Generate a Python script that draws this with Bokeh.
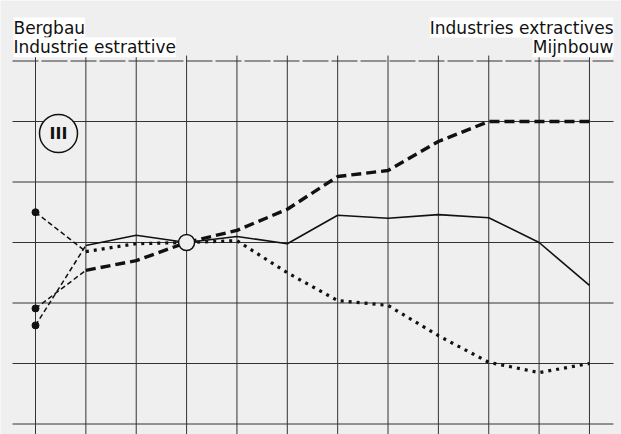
from bokeh.plotting import figure
from bokeh.models import Range1d, Label
from bokeh.embed import file_html
from bokeh.resources import INLINE

# ---- data (index, base year = 100) ----
years = [1955, 1956, 1957, 1958, 1959, 1960, 1961, 1962, 1963, 1964, 1965, 1966]
series_solid = [86.3, 99.5, 101.2, 100.0, 101.0, 99.8, 104.5, 104.0, 104.6, 104.1, 100.0, 92.9]
series_dotted = [105.0, 98.5, 99.8, 100.0, 100.3, 95.0, 90.4, 89.6, 84.6, 80.2, 78.5, 80.0]
series_dashed = [89.1, 95.4, 97.0, 100.0, 102.0, 105.5, 110.9, 111.9, 116.7, 120.0, 120.0, 120.0]
y_ticks = [70, 80, 90, 100, 110, 120, 130]
base_year = 1958
base_value = 100
title_left = ["Bergbau", "Industrie estrattive"]
title_right = ["Industries extractives", "Mijnbouw"]
badge = "III"

# ---- layout helpers (image pixel -> data) ----
OFF = 0                          # page offset of the figure
X0_PX, DX_PX = 35.0, 50.36       # first year position, px per year
Y100_PX, DY_PX = 242.0, 6.05     # value 100 position, px per unit
def px_x(ix):
    return years[0] + (ix - X0_PX) / DX_PX
def px_y(iy):
    return 100 + (Y100_PX - iy) / DY_PX

W, H = 621, 434
p = figure(width=W, height=H, output_backend="svg", toolbar_location=None,
           x_range=Range1d(px_x(OFF), px_x(OFF + W)), y_range=Range1d(px_y(OFF + H), px_y(OFF)),
           x_axis_location=None, y_axis_location=None, min_border=0)
p.grid.visible = False
p.outline_line_color = None
p.background_fill_color = "#efefef"
p.border_fill_color = "#efefef"

grid_col = "#333333"
# horizontal grid lines
hx0 = px_x(12)
hx1 = px_x(613)
p.segment(x0=[hx0] * (len(y_ticks) - 1), y0=y_ticks[:-1], x1=[hx1] * (len(y_ticks) - 1), y1=y_ticks[:-1],
          line_color=grid_col, line_width=1)
p.segment(x0=[hx0], y0=[y_ticks[-1]], x1=[hx1], y1=[y_ticks[-1]],
          line_color=grid_col, line_width=1, line_dash="26 3")
# vertical grid lines
vtop = y_ticks[-1] + 0.9
vbot = y_ticks[0] - 3
p.segment(x0=years, y0=[vtop] * len(years), x1=years, y1=[vbot] * len(years),
          line_color=grid_col, line_width=1)

ink = "#111111"
# early (thin dashed) segments
for s in (series_solid, series_dotted, series_dashed):
    p.line(years[:2], s[:2], line_color=ink, line_width=1.5, line_dash="5 3")
# main lines
p.line(years[1:], series_solid[1:], line_color=ink, line_width=1.6)
p.line(years[1:], series_dotted[1:], line_color=ink, line_width=3.2, line_dash="3 5")
p.line(years[1:], series_dashed[1:], line_color=ink, line_width=3.4, line_dash="10 5")

# start dots
p.scatter([years[0]] * 3, [series_solid[0], series_dotted[0], series_dashed[0]],
          marker="circle", size=7, fill_color=ink, line_color=ink)
# base circle
p.scatter([base_year], [base_value], marker="circle", size=16,
          fill_color="#efefef", line_color=ink, line_width=1.5)

# badge
bx, by = px_x(58), px_y(133)
p.scatter([bx], [by], marker="circle", size=38, fill_color="#efefef", line_color=ink, line_width=1.5)
p.add_layout(Label(x=bx, y=by, text=badge, text_font="DejaVu Sans", text_font_size="16px",
                   text_font_style="bold", text_align="center", text_baseline="middle", text_color=ink))

# titles
for t, b in zip(title_left, [27, 46.7]):
    p.add_layout(Label(x=px_x(13), y=px_y(b), text=t, text_font="DejaVu Sans",
                       text_font_size="17px", text_align="left", text_baseline="alphabetic",
                       text_color=ink, background_fill_color="white"))
for t, b in zip(title_right, [27, 46.7]):
    p.add_layout(Label(x=px_x(613), y=px_y(b), text=t, text_font="DejaVu Sans",
                       text_font_size="17px", text_align="right", text_baseline="alphabetic",
                       text_color=ink, background_fill_color="white"))

open("out.html", "w").write(file_html(p, INLINE))
